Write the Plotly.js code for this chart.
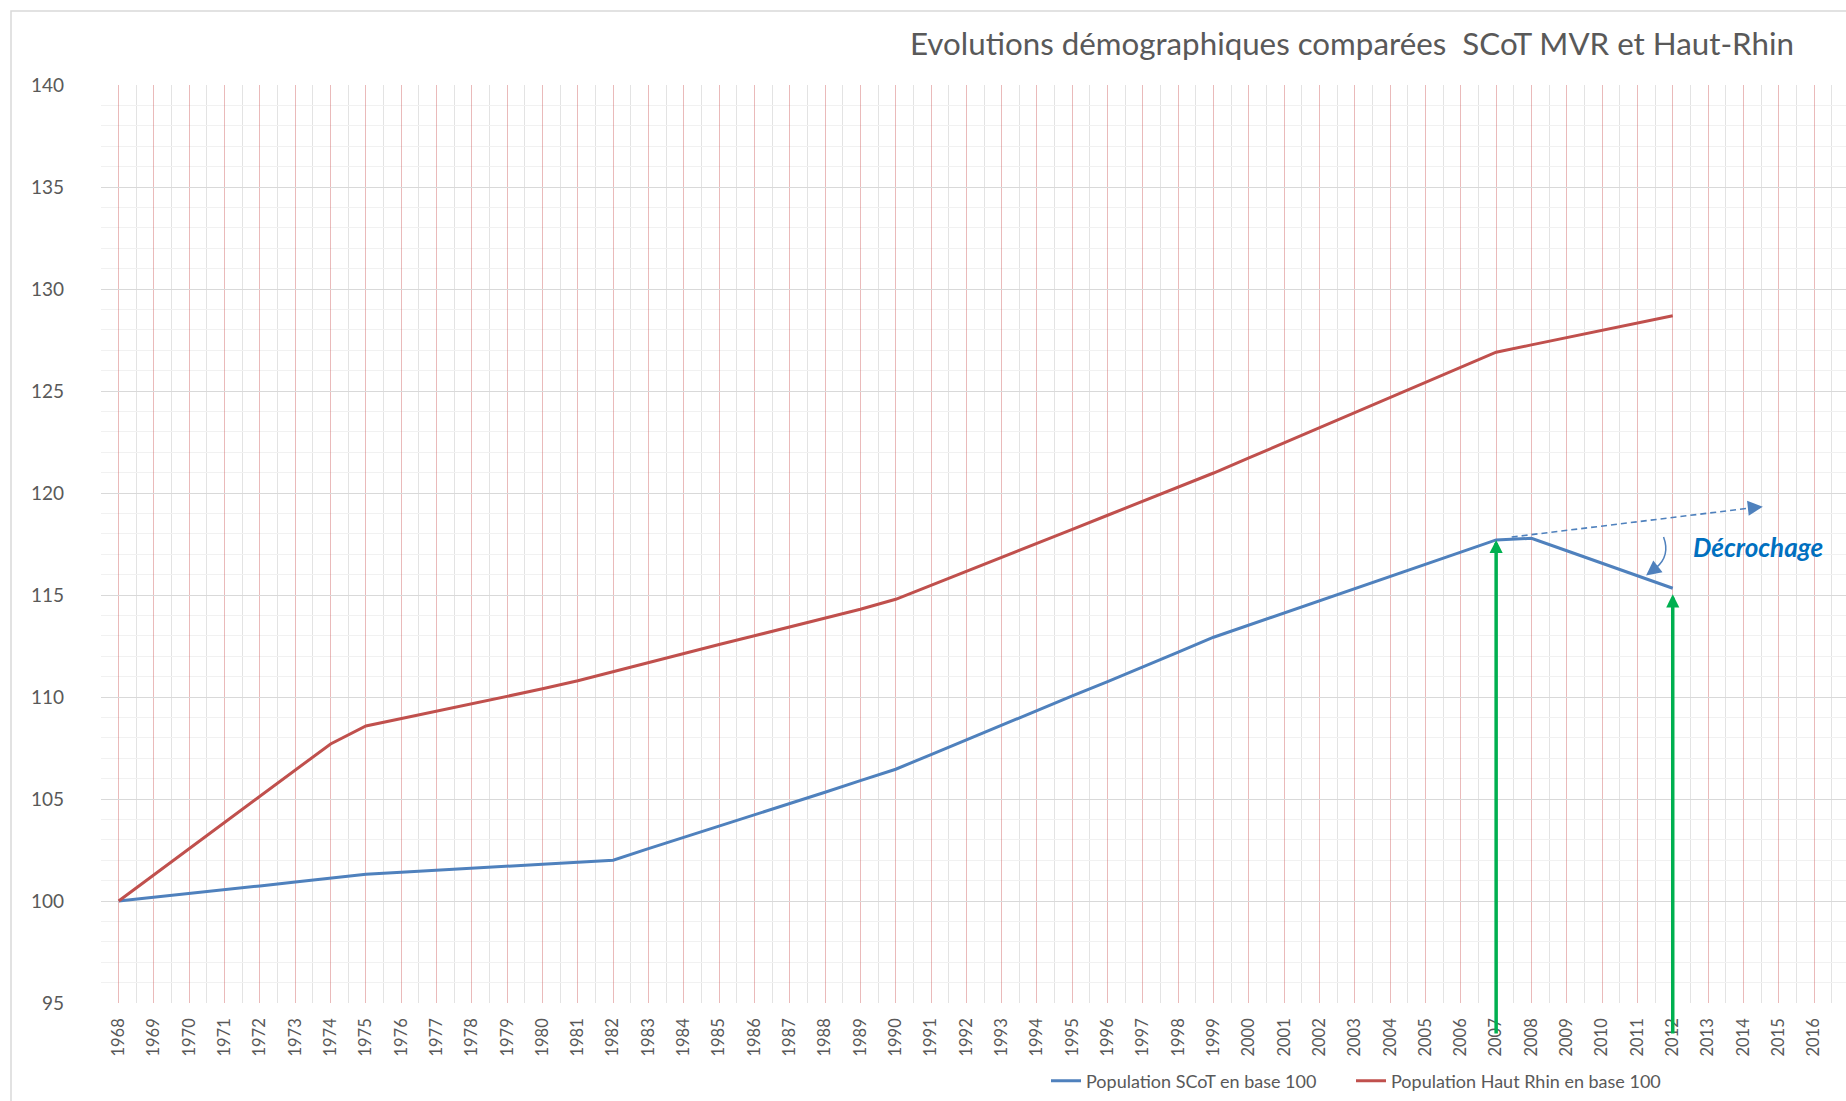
<!DOCTYPE html>
<html>
<head>
<meta charset="utf-8">
<script src="https://cdn.plot.ly/plotly-3.0.1.min.js"></script>
<style>
  html, body { margin: 0; padding: 0; background: #ffffff; overflow: hidden; }
  #chart { width: 1846px; height: 1101px; }
</style>
</head>
<body>
<div id="chart"></div>
<script>
// ---- Data ----
const axisYears = [1968,1969,1970,1971,1972,1973,1974,1975,1976,1977,1978,1979,1980,1981,1982,1983,1984,1985,1986,1987,1988,1989,1990,1991,1992,1993,1994,1995,1996,1997,1998,1999,2000,2001,2002,2003,2004,2005,2006,2007,2008,2009,2010,2011,2012,2013,2014,2015,2016,2017];
const axisLabels = axisYears.map(String);

const dataYears = [1968,1969,1970,1971,1972,1973,1974,1975,1976,1977,1978,1979,1980,1981,1982,1983,1984,1985,1986,1987,1988,1989,1990,1991,1992,1993,1994,1995,1996,1997,1998,1999,2000,2001,2002,2003,2004,2005,2006,2007,2008,2009,2010,2011,2012];

const scotBase100 = [100.00,100.18,100.35,100.54,100.74,100.93,101.12,101.31,101.41,101.50,101.60,101.69,101.80,101.90,102.00,102.57,103.12,103.65,104.22,104.78,105.33,105.90,106.46,107.18,107.90,108.63,109.34,110.05,110.75,111.46,112.20,112.93,113.52,114.12,114.72,115.31,115.91,116.51,117.10,117.70,117.78,117.17,116.56,115.94,115.33];

const hautRhinBase100 = [100.00,101.28,102.57,103.85,105.13,106.42,107.70,108.58,108.94,109.30,109.66,110.02,110.40,110.80,111.25,111.69,112.13,112.57,113.00,113.43,113.85,114.30,114.79,115.47,116.15,116.83,117.52,118.22,118.91,119.60,120.29,120.98,121.72,122.46,123.20,123.94,124.68,125.42,126.16,126.90,127.26,127.62,127.98,128.33,128.69];

const seriesNames = ["Population SCoT en base 100", "Population Haut Rhin en base 100"];
const chartTitle = "Evolutions démographiques comparées\u00a0 SCoT MVR et Haut-Rhin";
const calloutText = "Décrochage";

// ---- Styles ----
const FONT = "Lato, 'Open Sans', sans-serif";
const TXT = "#595959";
const BLUE = "#4f81bd";
const RED = "#c0504d";
const GREEN = "#00b050";

const idx = y => dataYears.indexOf(y);

const traces = [
  { x: dataYears, y: scotBase100, name: seriesNames[0], type: "scatter", mode: "lines",
    line: { color: BLUE, width: 3 }, hoverinfo: "skip", legend: "legend" },
  { x: dataYears, y: hautRhinBase100, name: seriesNames[1], type: "scatter", mode: "lines",
    line: { color: RED, width: 3 }, hoverinfo: "skip", legend: "legend2" }
];

const legendBase = {
  orientation: "h",
  xref: "container", yref: "container",
  xanchor: "left", yanchor: "middle",
  y: 1 - 1081 / 1101,
  font: { family: FONT, size: 18, color: TXT },
  bgcolor: "rgba(0,0,0,0)", borderwidth: 0
};

const layout = {
  width: 1846, height: 1101,
  margin: { l: 101, r: 0, t: 85, b: 98, pad: 0 },
  paper_bgcolor: "#ffffff", plot_bgcolor: "#ffffff",
  font: { family: FONT, color: TXT },
  title: {
    text: chartTitle,
    font: { family: FONT, size: 31.3, color: TXT },
    xref: "container", yref: "container",
    x: 910 / 1846, xanchor: "left",
    y: 1 - 44 / 1101, yanchor: "middle"
  },
  showlegend: true,
  legend: Object.assign({}, legendBase, { x: 1046 / 1846 }),
  legend2: Object.assign({}, legendBase, { x: 1351 / 1846 }),
  xaxis: {
    type: "linear",
    range: [1967.5, 1967.5 + 1745 / 35.32],
    tickmode: "array", tickvals: axisYears, ticktext: axisLabels,
    tickangle: -90,
    tickfont: { family: FONT, size: 16.5, color: TXT },
    ticks: "", ticklabelstandoff: 11,
    showgrid: true, gridcolor: "rgba(205,90,90,0.42)", gridwidth: 1,
    minor: { tickmode: "linear", tick0: 1967.5, dtick: 1, showgrid: true, gridcolor: "#e3e3e3", gridwidth: 1, ticks: "" },
    zeroline: false, showline: false, fixedrange: true
  },
  yaxis: {
    range: [95, 140],
    tickmode: "linear", tick0: 95, dtick: 5,
    tickfont: { family: FONT, size: 19, color: TXT },
    ticks: "", ticklabelstandoff: 36,
    showgrid: true, gridcolor: "#d9d9d9", gridwidth: 1,
    minor: { tickmode: "linear", tick0: 95, dtick: 1, showgrid: true, gridcolor: "#f1f1f1", gridwidth: 1, ticks: "" },
    zeroline: false, showline: false, fixedrange: true
  },
  shapes: [
    // chart-area border
    { type: "rect", xref: "paper", yref: "paper",
      x0: (11 - 101) / 1745, x1: 1.2, y0: -0.3, y1: 1 + (85 - 11) / 918,
      line: { color: "#d9d9d9", width: 1.5 }, layer: "above" },
    // dashed trend extension
    { type: "line", xref: "x", yref: "y",
      x0: 2007.44, y0: 117.84, x1: 2014.13, y1: 119.25,
      line: { color: BLUE, width: 1.6, dash: "6px,4px" }, layer: "above" },
    // curved "décrochage" arrow body
    { type: "path", xref: "x", yref: "y",
      path: "M 2011.74,117.84 Q 2011.94,116.91 2011.52,116.32",
      line: { color: BLUE, width: 1.5 }, layer: "above" }
  ],
  annotations: [
    { x: 2007, y: scotBase100[idx(2007)], ax: 2007, ay: 93.43, axref: "x", ayref: "y", xref: "x", yref: "y",
      text: "", showarrow: true, arrowhead: 2, arrowsize: 0.75, arrowwidth: 3.5, arrowcolor: GREEN, standoff: 0 },
    { x: 2012, y: scotBase100[idx(2012)], ax: 2012, ay: 93.43, axref: "x", ayref: "y", xref: "x", yref: "y",
      text: "", showarrow: true, arrowhead: 2, arrowsize: 0.75, arrowwidth: 3.5, arrowcolor: GREEN, standoff: 6 },
    { x: 2014.55, y: 119.33, ax: 2014.13, ay: 119.25, axref: "x", ayref: "y", xref: "x", yref: "y",
      text: "", showarrow: true, arrowhead: 2, arrowsize: 2, arrowwidth: 1.5, arrowcolor: BLUE, standoff: 0 },
    { x: 2011.245, y: 115.95, ax: 2011.52, ay: 116.32, axref: "x", ayref: "y", xref: "x", yref: "y",
      text: "", showarrow: true, arrowhead: 2, arrowsize: 2, arrowwidth: 1.5, arrowcolor: BLUE, standoff: 0 },
    { x: 2014.40, y: 117.35, xref: "x", yref: "y", text: calloutText, showarrow: false,
      xanchor: "center", yanchor: "middle",
      font: { family: FONT, size: 26, color: "#0070c0", weight: "bold", style: "italic" } }
  ]
};

Plotly.newPlot("chart", traces, layout, { displayModeBar: false, staticPlot: true });
</script>
</body>
</html>
